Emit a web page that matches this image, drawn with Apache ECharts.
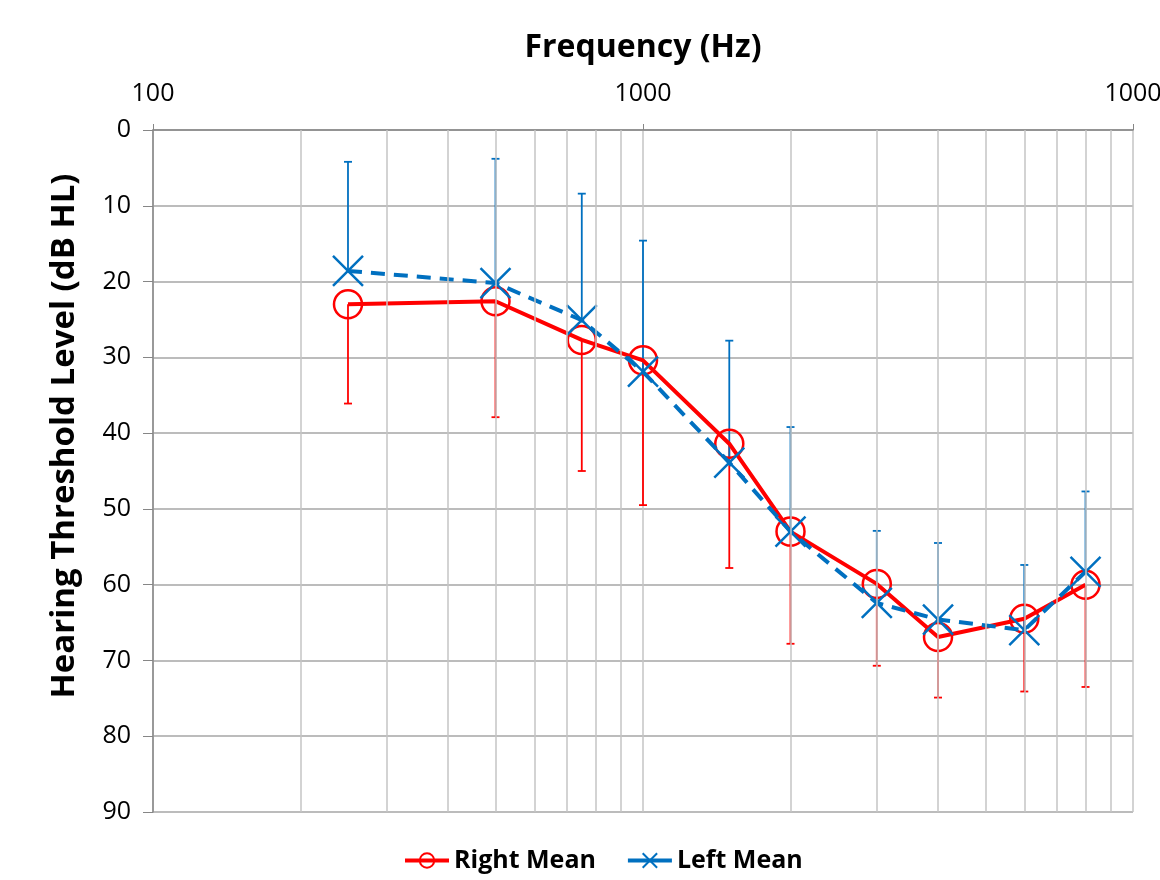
<!DOCTYPE html>
<html>
<head>
<meta charset="utf-8">
<title>Hearing Threshold</title>
<script src="https://cdn.jsdelivr.net/npm/echarts@6/dist/echarts.min.js"></script>
<style>
  html, body { margin: 0; padding: 0; background: #fff; }
  #chart { width: 1160px; height: 880px; }
</style>
</head>
<body>
<div id="chart"></div>
<script>
// audiogram values
const freqs = [250, 500, 750, 1000, 1500, 2000, 3000, 4000, 6000, 8000]
const rightMean = [23, 22.6, 27.7, 30.4, 41.4, 53, 59.9, 66.9, 64.5, 60]
const rightSD = [13.1, 15.3, 17.3, 19.1, 16.4, 14.8, 10.8, 8, 9.6, 13.5]
const leftMean = [18.6, 20.2, 25.1, 31.9, 43.9, 53, 62.4, 64.6, 66, 58.3]
const leftSD = [14.4, 16.4, 16.7, 17.3, 16.1, 13.8, 9.5, 10.1, 8.6, 10.6]
const minorFreqs = [200, 300, 400, 500, 600, 700, 800, 900,
  2000, 3000, 4000, 5000, 6000, 7000, 8000, 9000]
const xTickLabels = { 100: '100', 1000: '1000', 10000: '1000' }

const FONT = "'Open Sans', sans-serif"
const RED = '#ff0000'
const BLUE = '#0070c0'

// one-sided error bar: dir 1 draws downward (higher dB), -1 upward
function errorBars(name, mean, sd, dir, color) {
  return {
    name: name + ' err',
    type: 'custom',
    z: 1,
    silent: true,
    data: freqs.map((f, i) => [f, mean[i], mean[i] + dir * sd[i]]),
    renderItem(params, api) {
      const p0 = api.coord([api.value(0), api.value(1)])
      const p1 = api.coord([api.value(0), api.value(2)])
      const cap = 4
      const style = { stroke: color, lineWidth: 1.8 }
      return {
        type: 'group',
        children: [
          { type: 'line', shape: { x1: p0[0], y1: p0[1], x2: p1[0], y2: p1[1] }, style },
          { type: 'line', shape: { x1: p1[0] - cap, y1: p1[1], x2: p1[0] + cap, y2: p1[1] }, style }
        ]
      }
    }
  }
}

const chart = echarts.init(document.getElementById('chart'))
chart.setOption({
  animation: false,
  textStyle: { fontFamily: FONT },
  grid: { left: 153, right: 27, top: 130, bottom: 68, outerBoundsMode: 'none' },
  legend: {
    bottom: 2,
    left: 398,
    itemWidth: 44,
    itemHeight: 18,
    itemGap: 30,
    data: [
      { name: 'Right Mean', lineStyle: { width: 4 } },
      { name: 'Left Mean', lineStyle: { width: 4, type: 'solid' } }
    ],
    textStyle: { fontFamily: FONT, fontSize: 25, fontWeight: 'bold', color: '#000' }
  },
  xAxis: {
    type: 'log',
    logBase: 10,
    min: 100,
    max: 10000,
    position: 'top',
    name: 'Frequency (Hz)',
    nameLocation: 'middle',
    nameGap: 66,
    nameTextStyle: { fontSize: 32, fontWeight: 'bold', color: '#000' },
    axisLine: { show: true, lineStyle: { color: '#868686', width: 1.5 } },
    axisTick: { show: true, length: 6, lineStyle: { color: '#868686' } },
    axisLabel: {
      fontSize: 25,
      color: '#000',
      margin: 24,
      formatter: v => xTickLabels[Math.round(v)] || ''
    },
    splitLine: { show: true, lineStyle: { color: '#c4c4c4', width: 1.5 } }
  },
  yAxis: {
    type: 'value',
    inverse: true,
    min: 0,
    max: 90,
    interval: 10,
    name: 'Hearing Threshold Level (dB HL)',
    nameLocation: 'middle',
    nameGap: 72,
    nameTextStyle: { fontSize: 33, fontWeight: 'bold', color: '#000', padding: [0, 0, 0, 70] },
    axisLine: { show: true, lineStyle: { color: '#868686', width: 1.5 } },
    axisTick: { show: true, length: 10, lineStyle: { color: '#868686' } },
    axisLabel: { fontSize: 25, color: '#000', margin: 22 },
    splitLine: { show: true, lineStyle: { color: '#a6a6a6', width: 1.5 } }
  },
  series: [
    {
      name: 'minor grid',
      type: 'line',
      data: [],
      silent: true,
      z: 0,
      markLine: {
        silent: true,
        symbol: 'none',
        label: { show: false },
        lineStyle: { color: '#c4c4c4', width: 1.5, type: 'solid' },
        data: minorFreqs.map(f => ({ xAxis: f }))
      }
    },
    errorBars('Right Mean', rightMean, rightSD, 1, RED),
    errorBars('Left Mean', leftMean, leftSD, -1, BLUE),
    {
      name: 'Right Mean',
      type: 'line',
      z: 3,
      data: freqs.map((f, i) => [f, rightMean[i]]),
      symbol: 'circle',
      symbolSize: 28,
      lineStyle: { color: RED, width: 4 },
      itemStyle: { color: 'rgba(0,0,0,0)', borderColor: RED, borderWidth: 2.5 }
    },
    {
      name: 'Left Mean',
      type: 'line',
      z: 4,
      data: freqs.map((f, i) => [f, leftMean[i]]),
      symbol: 'path://M0,0L10,10M10,0L0,10',
      symbolSize: 30,
      lineStyle: { color: BLUE, width: 4, type: [14, 9] },
      itemStyle: { color: 'rgba(0,0,0,0)', borderColor: BLUE, borderWidth: 2.5 }
    }
  ]
})
</script>
</body>
</html>
